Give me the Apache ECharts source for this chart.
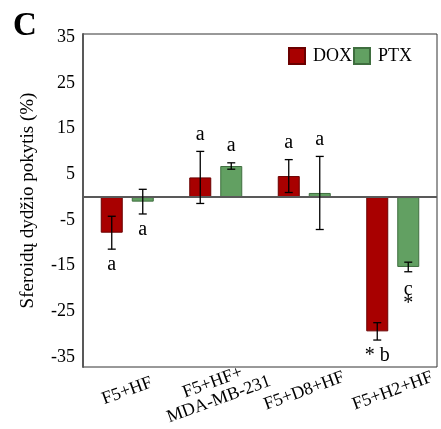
<!DOCTYPE html>
<html>
<head>
<meta charset="utf-8">
<script src="https://cdn.jsdelivr.net/npm/echarts@6/dist/echarts.min.js"></script>
<style>
  html, body { margin: 0; padding: 0; background: #fff; }
  #chart { width: 441px; height: 429px; }
</style>
</head>
<body>
<div id="chart"></div>
<script>
// grupės
var categories = ['F5+HF', 'F5+HF+\nMDA-MB-231', 'F5+D8+HF', 'F5+H2+HF'];
// vidurkiai ir paklaidos
var doxMean = [-7.8, 4.3, 4.6, -29.4];
var doxErr  = [3.6, 5.7, 3.6, 1.9];
var ptxMean = [-1.0, 6.8, 0.9, -15.3];
var ptxErr  = [2.7, 0.7, 8.0, 1.05];
// raidės prie stulpelių
var doxMarks = ['a', 'a', 'a', '* b'];
var ptxMarks = ['a', 'a', 'a', 'c\n*'];
var yTicks = [-35, -25, -15, -5, 5, 15, 25, 35];

var FONT = 'Liberation Serif';
var BAR_W = 22;
var BAR_GAP = 9;
var shift = (BAR_W + BAR_GAP) / 2;

function $each(arr, fn){ for (var k = 0; k < arr.length; k++) fn(k, arr[k]); }

var errSeries = function(means, errs, marks, dx){
    var data = [];
    $each(means, function(i, m){
        data.push([i, m, errs[i], marks[i]]);
    });
    return {
        type: 'custom',
        silent: true,
        z: 5,
        data: data,
        renderItem: function(params, api){
            var i = api.value(0), m = api.value(1), e = api.value(2);
            var mark = data[params.dataIndex][3];
            var c = api.coord([i, m]);
            var x = c[0] + dx;
            var yHi = api.coord([i, m + e])[1];
            var yLo = api.coord([i, m - e])[1];
            var st = { stroke: '#000', lineWidth: 1.3 };
            var cap = 4;
            var lines = mark.split('\n').length;
            var ty = m >= 0 ? yHi - 17 : yLo + 16;
            if (lines > 1) ty += 9 * (lines - 1);
            return {
                type: 'group',
                children: [
                    { type: 'line', shape: { x1: x, y1: yHi, x2: x, y2: yLo }, style: st },
                    { type: 'line', shape: { x1: x - cap, y1: yHi, x2: x + cap, y2: yHi }, style: st },
                    { type: 'line', shape: { x1: x - cap, y1: yLo, x2: x + cap, y2: yLo }, style: st },
                    { type: 'text', x: x, y: ty, style: {
                        text: mark, fill: '#000', font: '20px ' + FONT,
                        align: 'center', verticalAlign: 'middle', lineHeight: 14
                    } }
                ]
            };
        }
    };
};

var chart = echarts.init(document.getElementById('chart'));
var option = {
    animation: false,
    title: {
        text: 'C', left: 8, top: 5,
        textStyle: { fontFamily: FONT, fontSize: 33, fontWeight: 'bold', color: '#000' }
    },
    legend: {
        data: ['DOX', 'PTX'],
        right: 24, top: 42,
        icon: 'rect',
        itemWidth: 16, itemHeight: 16, itemGap: 1,
        textStyle: { fontFamily: FONT, fontSize: 18, color: '#000', padding: [0, 0, 0, 3] }
    },
    grid: {
        left: 83, right: 4, top: 34, bottom: 62,
        show: true, borderColor: '#333', borderWidth: 1
    },
    xAxis: {
        type: 'category',
        data: categories,
        axisLine: { show: false, onZero: false },
        axisTick: { show: false },
        axisLabel: {
            interval: 0, rotate: 20, margin: 24,
            align: 'center', verticalAlign: 'middle',
            fontFamily: FONT, fontSize: 18, color: '#000', lineHeight: 18
        }
    },
    yAxis: {
        type: 'value',
        min: -37.2, max: 35.7,
        name: 'Sferoidų dydžio pokytis (%)',
        nameLocation: 'middle', nameGap: 45,
        nameTextStyle: { fontFamily: FONT, fontSize: 19, color: '#000' },
        splitLine: { show: false },
        axisTick: { show: false },
        axisLine: { show: true, lineStyle: { color: '#595959', width: 2 } },
        axisLabel: {
            customValues: yTicks, margin: 8,
            fontFamily: FONT, fontSize: 18, color: '#000'
        }
    },
    series: [
        {
            name: 'DOX', type: 'bar', data: doxMean,
            barWidth: BAR_W, barGap: (BAR_GAP / BAR_W * 100) + '%',
            itemStyle: { color: '#A80000', borderColor: '#6b0000', borderWidth: 1 },
            markLine: {
                silent: true, symbol: 'none', label: { show: false },
                lineStyle: { color: '#595959', width: 2, type: 'solid' },
                data: [{ yAxis: 0 }]
            }
        },
        {
            name: 'PTX', type: 'bar', data: ptxMean,
            barWidth: BAR_W,
            itemStyle: { color: '#62A062', borderColor: '#3f6e3f', borderWidth: 1 }
        },
        errSeries(doxMean, doxErr, doxMarks, -shift),
        errSeries(ptxMean, ptxErr, ptxMarks, shift)
    ]
};
chart.setOption(option);
</script>
</body>
</html>
